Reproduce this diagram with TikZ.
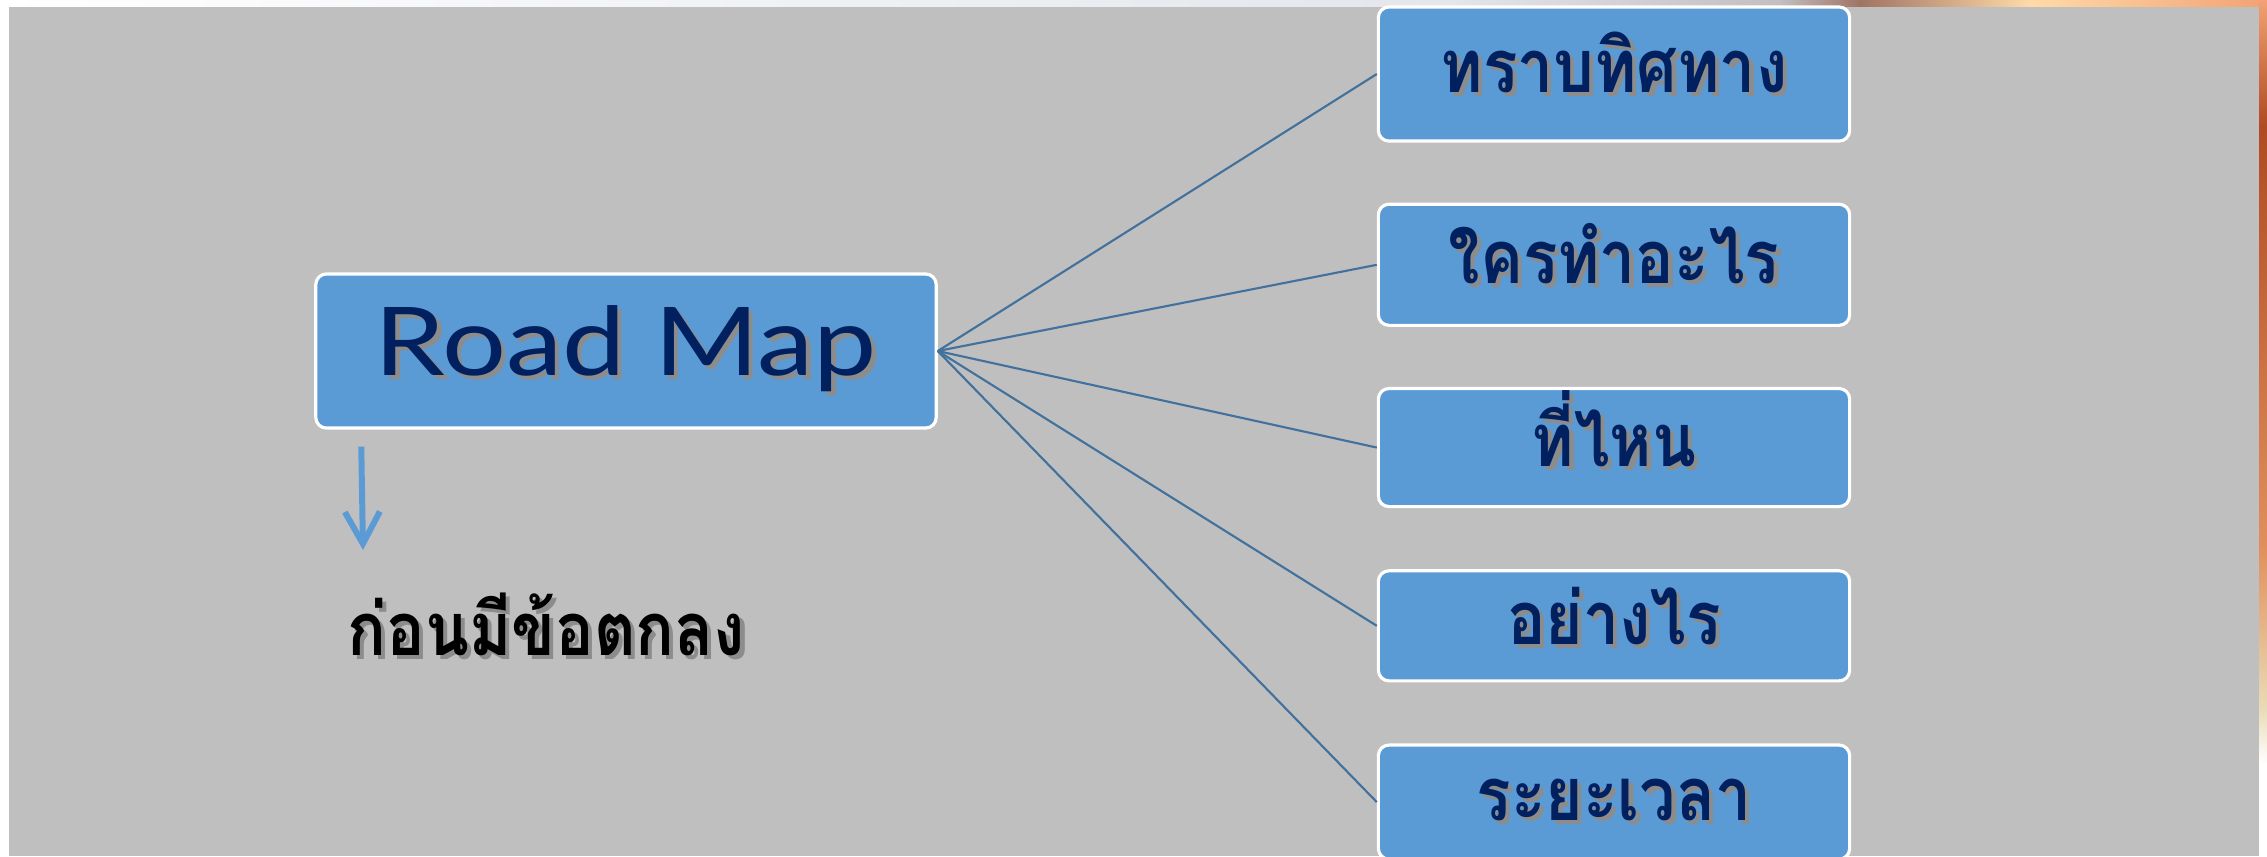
\documentclass[tikz,border=0pt]{standalone}
\usepackage{fontspec}
\usetikzlibrary{positioning,arrows.meta}

\newfontfamily\thaifont[Script=Thai,FakeStretch=0.87]{Loma}
\newfontfamily\latinfont[FakeStretch=1.19]{Lato}

\definecolor{panelgrey}{HTML}{BFBFBF}
\definecolor{boxblue}{HTML}{5B9BD5}
\definecolor{linkblue}{HTML}{41719C}
\definecolor{textnavy}{HTML}{002060}
\definecolor{edgegrey}{HTML}{E4E6EC}
\definecolor{edgemauve}{HTML}{C3BEC2}
\definecolor{edgebrown}{HTML}{A07464}
\definecolor{edgepeach}{HTML}{FFDAA8}
\definecolor{edgeorange}{HTML}{F2A274}
\definecolor{edgerust}{HTML}{B04A22}
\definecolor{edgetan}{HTML}{E08F5C}
\definecolor{edgecream}{HTML}{E9DCB7}

% text with a soft drop shadow
\newcommand\castshadow[2]{\leavevmode\rlap{\hspace{1.2pt}\raisebox{-1.2pt}{\color{black!45}#2}}{\color{#1}#2}}

\begin{document}
\begin{tikzpicture}[
    x=0.01cm, y=-0.01cm,
    rootbox/.style={draw=white, line width=0.9pt, fill=boxblue, rounded corners=3pt,
        minimum width=6.2cm, minimum height=1.54cm, inner sep=0pt,
        font=\latinfont\fontsize{27}{27}\selectfont},
    topic/.style={draw=white, line width=0.9pt, fill=boxblue, rounded corners=3pt,
        minimum width=4.71cm, inner sep=0pt, text height=10.5pt, text depth=0pt,
        font=\thaifont\bfseries\fontsize{21}{21}\selectfont},
    note/.style={inner sep=0pt, text height=10.5pt, text depth=0pt,
        font=\thaifont\bfseries\fontsize{21}{21}\selectfont},
    link/.style={linkblue, line width=0.6pt},
    downarrow/.style={boxblue, line width=1.7pt,
        -{Straight Barb[length=3.2mm, width=3.5mm]}}
]
    \useasboundingbox (0,0) rectangle (2267,856);
    % slide frame
    \fill[white] (0,0) rectangle (2267,856);
    \shade[left color=white, right color=edgegrey] (0,0) rectangle (1450,7);
    \shade[left color=edgegrey, right color=edgemauve] (1450,0) rectangle (1780,7);
    \shade[left color=edgemauve, right color=edgebrown] (1780,0) rectangle (1860,7);
    \shade[left color=edgebrown, right color=edgepeach] (1860,0) rectangle (2030,7);
    \shade[left color=edgepeach, right color=edgeorange] (2030,0) rectangle (2267,7);
    \shade[top color=edgeorange, bottom color=edgerust] (2259,0) rectangle (2267,126);
    \shade[top color=edgerust, bottom color=edgetan] (2259,126) rectangle (2267,546);
    \shade[top color=edgetan, bottom color=edgecream] (2259,546) rectangle (2267,710);
    \shade[top color=edgecream, bottom color=white] (2259,710) rectangle (2267,764);
    \fill[panelgrey] (9,7) rectangle (2259,856);

    \node[rootbox] (roadmap) at (626,351) {\castshadow{textnavy}{Road Map}};

    \node[topic, minimum height=1.34cm] (direction) at (1614,74)
        {\castshadow{textnavy}{ทราบทิศทาง}};
    \node[topic, minimum height=1.21cm, below=0.60cm of direction] (who)
        {\castshadow{textnavy}{ใครทำอะไร}};
    \node[topic, minimum height=1.18cm, below=0.60cm of who] (where)
        {\castshadow{textnavy}{ที่ไหน}};
    \node[topic, minimum height=1.10cm, below=0.61cm of where] (how)
        {\castshadow{textnavy}{อย่างไร}};
    \node[topic, minimum height=1.14cm, below=0.61cm of how] (duration)
        {\castshadow{textnavy}{ระยะเวลา}};

    \foreach \t in {direction,who,where,how,duration}
        \draw[link] (roadmap.east) -- (\t.west);

    \node[note, anchor=west] (agreement) at (347,637) {\castshadow{black}{ก่อนมีข้อตกลง}};

    \coordinate (arrowstart) at ([xshift=0.47cm, yshift=-0.17cm]roadmap.south west);
    \coordinate (arrowend) at (363,550);
    \draw[downarrow] (arrowstart) -- (arrowend);
\end{tikzpicture}
\end{document}
